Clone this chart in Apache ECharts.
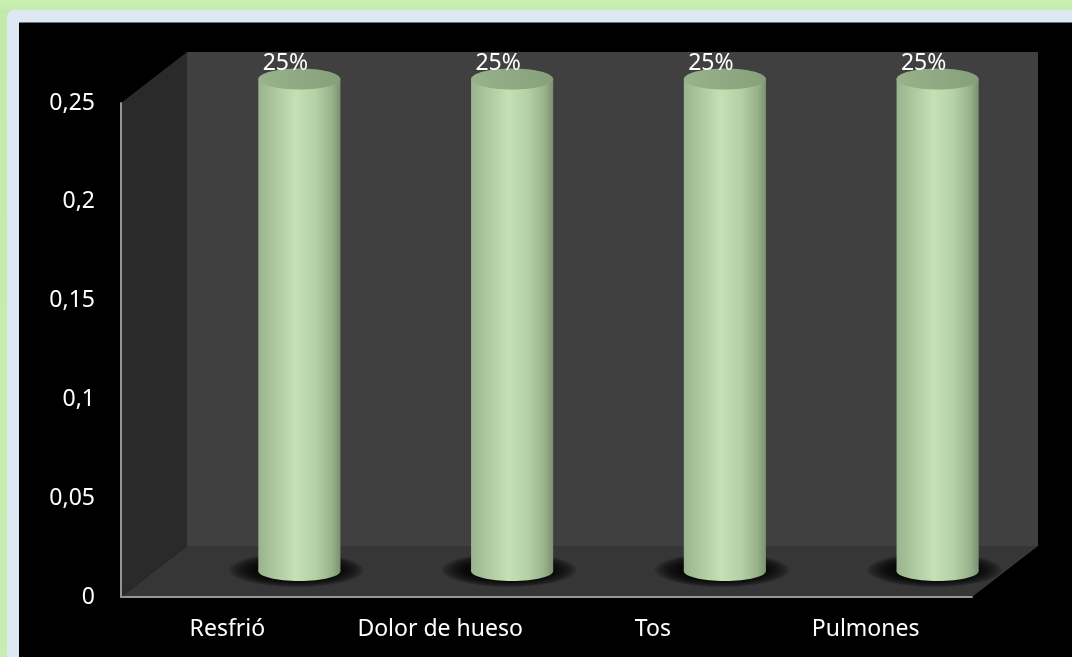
<!DOCTYPE html>
<html>
<head>
<meta charset="utf-8">
<title>Síntomas</title>
<script src="https://cdn.jsdelivr.net/npm/echarts@6/dist/echarts.min.js"></script>
<style>
  html, body { margin: 0; padding: 0; }
  body { width: 1072px; height: 657px; position: relative; overflow: hidden;
         background: linear-gradient(#c9efb2, #c4eaab 12px, #c8edb0); }
  #frame { position: absolute; left: 7px; top: 10px; width: 1080px; height: 660px;
           background: #dde8f3; border-radius: 7px; }
  #panel { position: absolute; left: 19px; top: 22px; right: 0; bottom: 0;
           background: #000; border-top: 1px solid #6f7780; box-sizing: border-box; }
  #chart { position: absolute; left: 0; top: 0; width: 1072px; height: 657px; }
</style>
</head>
<body>
<div id="frame"></div>
<div id="panel"></div>
<div id="chart"></div>
<script>
// Categories and values of the chart
const categories = ['Resfrió', 'Dolor de hueso', 'Tos', 'Pulmones'];
const values = [0.25, 0.25, 0.25, 0.25];
const yTickLabels = ['0', '0,05', '0,1', '0,15', '0,2', '0,25'];

// 3D box depth (back wall offset from the front plane) and the column plane
const DEPTH_X = 66, DEPTH_Y = -51;
const COL_DX = 72, COL_DY = -26;
const TOP_PERSPECTIVE = 2;
const FONT_SIZE = 23;

const chart = echarts.init(document.getElementById('chart'), null, { renderer: 'canvas' });

function renderWalls(params) {
  const cs = params.coordSys;
  const x = cs.x, y = cs.y, w = cs.width, h = cs.height;
  const b = y + h;
  return {
    type: 'group',
    silent: true,
    children: [
      { type: 'polygon', shape: { points: [[x, y], [x + DEPTH_X, y + DEPTH_Y], [x + DEPTH_X, b + DEPTH_Y], [x, b]] },
        style: { fill: '#2a2a2a' } },
      { type: 'rect', shape: { x: x + DEPTH_X, y: y + DEPTH_Y, width: w, height: h },
        style: { fill: '#404040' } },
      { type: 'polygon', shape: { points: [[x, b], [x + DEPTH_X, b + DEPTH_Y], [x + w + DEPTH_X, b + DEPTH_Y], [x + w, b]] },
        style: { fill: '#363636' } }
    ]
  };
}

const bodyGradient = {
  type: 'linear', x: 0, y: 0, x2: 1, y2: 0,
  colorStops: [
    { offset: 0, color: '#9ab38c' },
    { offset: 0.18, color: '#abc69d' },
    { offset: 0.45, color: '#c4e0b4' },
    { offset: 0.7, color: '#b4d0a5' },
    { offset: 0.9, color: '#98b18a' },
    { offset: 1, color: '#7b9070' }
  ]
};
const topGradient = {
  type: 'linear', x: 0, y: 0, x2: 1, y2: 0,
  colorStops: [
    { offset: 0, color: '#98b28b' },
    { offset: 1, color: '#86a07a' }
  ]
};

// soft floor shadow: stacked translucent ellipses, darkest near the column foot
function shadowRings(cx, cy, rx, ry) {
  const rings = [];
  const steps = 9;
  for (let i = 0; i < steps; i++) {
    const t = 1 - i / steps;
    rings.push({
      type: 'ellipse',
      shape: { cx: cx - 3, cy: cy - 1, rx: rx + 26 * t, ry: ry + 7 * t },
      style: { fill: 'rgba(0,0,0,0.16)' }
    });
  }
  return rings;
}

function renderColumn(params, api) {
  const idx = api.value(0);
  const v = api.value(1);
  const base = api.coord([idx, 0]);
  const top = api.coord([idx, v]);
  const band = api.size([1, 0])[0];
  const rx = band * 0.193;
  const ry = 10;
  const cx = base[0] + COL_DX;
  const by = base[1] + COL_DY;
  const ty = top[1] + COL_DY + TOP_PERSPECTIVE;
  return {
    type: 'group',
    children: shadowRings(cx, by, rx, ry).concat([
      { type: 'ellipse', shape: { cx: cx, cy: by, rx: rx, ry: ry }, style: { fill: bodyGradient } },
      { type: 'rect', shape: { x: cx - rx, y: ty, width: rx * 2, height: by - ty }, style: { fill: bodyGradient } },
      { type: 'ellipse', shape: { cx: cx, cy: ty, rx: rx, ry: ry + 0.5 }, style: { fill: topGradient } },
      { type: 'text', x: cx - 14, y: ty - 16,
        style: { text: Math.round(v * 100) + '%', fill: '#ffffff', font: FONT_SIZE + 'px "Noto Sans"',
                 align: 'center', verticalAlign: 'middle' } }
    ])
  };
}

chart.setOption({
  animation: false,
  backgroundColor: 'transparent',
  grid: { left: 121, top: 103, width: 851, height: 494, containLabel: false },
  xAxis: {
    type: 'category',
    data: categories,
    z: 10,
    axisLine: { show: true, lineStyle: { color: '#959595', width: 2 } },
    axisTick: { show: false },
    axisLabel: { color: '#ffffff', fontSize: FONT_SIZE, fontFamily: 'Noto Sans', margin: 21,
                 interval: 0, hideOverlap: false },
    splitLine: { show: false }
  },
  yAxis: {
    type: 'value',
    min: 0, max: 0.25, interval: 0.05,
    z: 10,
    axisLine: { show: true, lineStyle: { color: '#959595', width: 2 } },
    axisTick: { show: false },
    splitLine: { show: false },
    axisLabel: {
      color: '#ffffff', fontSize: FONT_SIZE, fontFamily: 'Noto Sans', margin: 26,
      formatter: function (val) { return yTickLabels[Math.round(val / 0.05)]; }
    }
  },
  series: [
    { type: 'custom', name: 'walls', silent: true, z: 1, clip: false,
      renderItem: renderWalls, data: [[0, 0]] },
    { type: 'custom', name: 'Síntomas', z: 3, clip: false,
      renderItem: renderColumn,
      data: values.map(function (v, i) { return [i, v]; }) }
  ]
});
</script>
</body>
</html>
